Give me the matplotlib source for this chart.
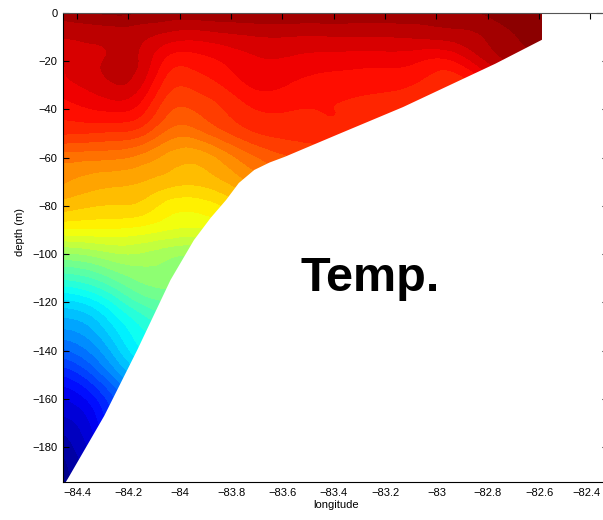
import numpy as np
import matplotlib
matplotlib.use("Agg")
import matplotlib.pyplot as plt
import matplotlib.tri as mtri
from matplotlib.colors import LinearSegmentedColormap
from matplotlib.transforms import Affine2D, ScaledTranslation

# Section grid: station longitudes and sample depths (m)
lon = [-84.45, -84.35, -84.25, -84.15, -84.05, -83.95, -83.85, -83.7,
       -83.55, -83.4, -83.25, -83.1, -82.95, -82.8, -82.59]
depth = [0, -10, -20, -30, -40, -50, -60, -70, -80, -90, -100,
         -110, -120, -130, -140, -150, -160, -170, -180, -195]

# Temperature (deg C), one row per depth, one column per station
t_0   = [29.4, 29.6, 29.7, 29.6, 29.5, 29.5, 29.55, 29.6, 29.6, 29.55, 29.5, 29.45, 29.5, 29.7, 29.9]
t_10  = [28.9, 28.95, 29.0, 28.95, 28.7, 28.6, 28.7, 28.85, 28.85, 28.85, 28.85, 28.9, 29.0, 29.3, 29.8]
t_20  = [28.5, 28.8, 28.95, 28.8, 28.0, 27.9, 28.1, 28.45, 28.4, 28.3, 28.25, 28.2, 28.05, 28.9, 29.6]
t_30  = [28.4, 28.6, 28.85, 28.5, 27.55, 27.45, 27.7, 28.2, 28.05, 27.9, 27.85, 27.75, 27.5, 28.0, 29.0]
t_40  = [27.9, 28.1, 28.2, 27.9, 27.1, 27.0, 27.3, 27.75, 27.75, 27.75, 27.65, 27.45, 27.3, 27.6, 28.0]
t_50  = [27.4, 27.35, 27.3, 27.1, 26.5, 26.4, 26.8, 27.35, 27.5, 27.6, 27.5, 27.3, 27.2, 27.3, 27.5]
t_60  = [26.4, 26.35, 26.3, 26.1, 25.75, 25.6, 25.9, 26.6, 27.0, 27.1, 27.0, 27.0, 27.0, 27.0, 27.0]
t_70  = [25.9, 25.7, 25.6, 25.5, 25.3, 25.2, 25.4, 26.0, 26.4, 26.5, 26.5, 26.5, 26.5, 26.5, 26.5]
t_80  = [25.3, 25.15, 25.1, 25.0, 24.6, 24.5, 24.7, 25.2, 25.5, 25.6, 25.6, 25.6, 25.6, 25.6, 25.6]
t_90  = [24.3, 24.3, 24.3, 24.2, 24.0, 23.9, 24.0, 24.4, 24.8, 24.9, 24.9, 24.9, 24.9, 24.9, 24.9]
t_100 = [22.8, 22.95, 23.2, 23.2, 23.0, 22.9, 23.1, 23.5, 23.9, 24.1, 24.1, 24.1, 24.1, 24.1, 24.1]
t_110 = [21.45, 21.7, 22.2, 22.6, 22.7, 22.7, 23.0, 23.3, 23.6, 23.7, 23.7, 23.7, 23.7, 23.7, 23.7]
t_120 = [20.1, 20.4, 21.1, 21.8, 22.1, 22.3, 22.6, 22.8, 23.0, 23.2, 23.2, 23.2, 23.2, 23.2, 23.2]
t_130 = [19.2, 19.5, 20.3, 21.0, 21.5, 21.8, 22.0, 22.2, 22.4, 22.6, 22.6, 22.6, 22.6, 22.6, 22.6]
t_140 = [18.3, 18.8, 19.7, 20.6, 21.0, 21.3, 21.5, 21.7, 21.9, 22.0, 22.0, 22.0, 22.0, 22.0, 22.0]
t_150 = [17.3, 17.9, 18.9, 19.8, 20.4, 20.7, 21.0, 21.2, 21.4, 21.5, 21.5, 21.5, 21.5, 21.5, 21.5]
t_160 = [16.5, 17.0, 18.0, 18.9, 19.7, 20.0, 20.3, 20.5, 20.7, 20.8, 20.8, 20.8, 20.8, 20.8, 20.8]
t_170 = [16.0, 16.5, 17.6, 18.3, 19.0, 19.5, 19.8, 20.0, 20.2, 20.3, 20.3, 20.3, 20.3, 20.3, 20.3]
t_180 = [15.5, 16.2, 17.1, 17.9, 18.5, 19.0, 19.3, 19.5, 19.7, 19.8, 19.8, 19.8, 19.8, 19.8, 19.8]
t_195 = [15.2, 15.8, 16.5, 17.3, 18.0, 18.5, 18.8, 19.0, 19.2, 19.3, 19.3, 19.3, 19.3, 19.3, 19.3]

# Sea-floor profile along the section
bottom_lon = [-84.47, -84.436, -84.294, -84.165, -84.036, -83.945, -83.88,
              -83.82, -83.77, -83.71, -83.65, -83.59, -83.39, -83.13,
              -82.99, -82.77, -82.587, -82.3]
bottom_depth = [-199, -193.1, -167.0, -139.6, -110.7, -94.2, -85.0,
                -77.6, -70.5, -65.1, -62.0, -59.6, -50.6, -39.0,
                -32.0, -21.0, -11.0, -11.0]

x_ticks = [-84.4, -84.2, -84.0, -83.8, -83.6, -83.4, -83.2, -83.0, -82.8, -82.6, -82.4]
y_ticks = [0, -20, -40, -60, -80, -100, -120, -140, -160, -180]

plt.rcParams['font.family'] = ['Liberation Sans', 'DejaVu Sans']

# classic MATLAB-style jet
jet_ml = LinearSegmentedColormap.from_list('jet_ml', [
    (0.0, (0.0, 0.0, 0.5)), (0.125, (0.0, 0.0, 1.0)), (0.375, (0.0, 1.0, 1.0)),
    (0.625, (1.0, 1.0, 0.0)), (0.875, (1.0, 0.0, 0.0)), (1.0, (0.5, 0.0, 0.0))])

temp = np.array([t_0, t_10, t_20, t_30, t_40, t_50, t_60, t_70, t_80, t_90,
                 t_100, t_110, t_120, t_130, t_140, t_150, t_160, t_170,
                 t_180, t_195])

# Triangulate the station grid (longitude scaled so 0.1 deg ~ 10 m)
# and let matplotlib refine it for smooth isotherms.
lon_arr = np.asarray(lon)
dep_arr = np.asarray(depth, dtype=float)
X, Y = np.meshgrid((lon_arr - lon_arr[0]) * 100.0, dep_arr)
ny, nx = X.shape
tris = []
for j in range(ny - 1):
    for i in range(nx - 1):
        a = j * nx + i
        b = a + 1
        c = a + nx
        d = c + 1
        tris.append([a, b, d])
        tris.append([a, d, c])
tri = mtri.Triangulation(X.ravel(), Y.ravel(), np.array(tris))
refiner = mtri.UniformTriRefiner(tri)
tri_f, temp_f = refiner.refine_field(temp.ravel(), subdiv=3)

fig = plt.figure(figsize=(6.03, 5.20), dpi=100)
ax = fig.add_axes([63 / 603, 38 / 520, (602 - 63) / 603, (482 - 13) / 520])

to_lon = Affine2D().scale(0.01, 1.0).translate(lon_arr[0], 0.0) + ax.transData
levels = np.linspace(15, 30, 41)
ax.tricontourf(tri_f, temp_f, levels=levels, cmap=jet_ml, vmin=15, vmax=30,
               extend='both', zorder=1, transform=to_lon)

# blank out everything below the sea floor
ax.fill_between(bottom_lon, bottom_depth, -260, color='white', lw=0, zorder=2)

ax.set_xlim(-84.455, -82.355)
ax.set_ylim(-194.5, 0)
ax.set_xticks(x_ticks)
ax.set_xticklabels([f"{v:g}".replace('-', '\u2212') for v in x_ticks])
ax.set_yticks(y_ticks)
ax.set_yticklabels([f"{v:g}".replace('-', '\u2212') for v in y_ticks])
ax.tick_params(direction='in', top=True, right=True, length=4, width=0.8,
               labelsize=8, pad=4)
for s in ax.spines.values():
    s.set_linewidth(0.8)
    s.set_zorder(3)
ax.spines['top'].set_color('#555555')
ax.spines['right'].set_visible(False)

# keep the last longitude label inside the figure edge
last = ax.xaxis.get_major_ticks()[-1].label1
last.set_transform(last.get_transform()
                   + ScaledTranslation(-3 / 72, 0, fig.dpi_scale_trans))

ax.set_xlabel('longitude', fontsize=8)
ax.set_ylabel('depth (m)', fontsize=8)
ax.xaxis.set_label_coords(0.506, -0.038)
ax.yaxis.set_label_coords(-0.0705, 0.533)

ax.text(-83.53, -115.2, 'Temp.', fontsize=35, fontweight='bold',
        ha='left', va='baseline', zorder=4)

fig.savefig('out.png', dpi=100)
